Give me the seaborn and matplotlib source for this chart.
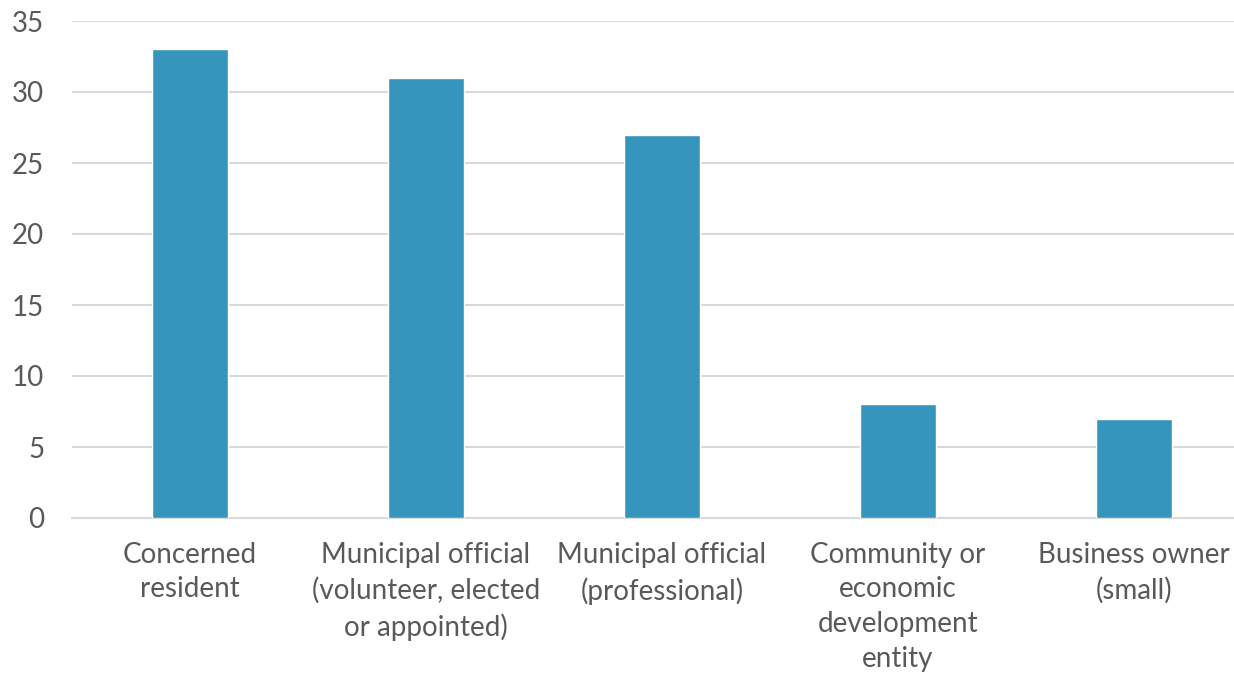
import matplotlib
import matplotlib.pyplot as plt
import seaborn as sns
import pandas as pd

matplotlib.use('Agg')

categories = [
    "Concerned\nresident",
    "Municipal official\n(volunteer, elected\nor appointed)",
    "Municipal official\n(professional)",
    "Community or\neconomic\ndevelopment\nentity",
    "Business owner\n(small)",
]
counts = [33, 31, 27, 8, 7]
y_ticks = [0, 5, 10, 15, 20, 25, 30, 35]

bar_color = "#3595BC"
text_color = "#595959"
grid_color = "#D9D9D9"

sns.set_theme(style="white")
plt.rcParams['font.family'] = ['Lato', 'DejaVu Sans']

df = pd.DataFrame({"category": categories, "count": counts})

fig = plt.figure(figsize=(12.34, 6.73), dpi=100)
ax = fig.add_axes([72 / 1234, 155 / 673, 1180 / 1234, 497 / 673])

sns.barplot(data=df, x="category", y="count", color=bar_color, width=0.318,
            saturation=1, ax=ax, zorder=3)

ax.set_xlim(-0.5, 4.5)
ax.set_ylim(0, 35)
ax.set_yticks(y_ticks)
ax.set_xlabel("")
ax.set_ylabel("")

ax.yaxis.grid(True, color=grid_color, linewidth=1.5, zorder=0)
ax.set_axisbelow(True)
for side in ["top", "right", "left"]:
    ax.spines[side].set_visible(False)
ax.spines["bottom"].set_color(grid_color)
ax.spines["bottom"].set_linewidth(1.5)

ax.tick_params(axis="y", length=0, pad=20, labelsize=20, labelcolor=text_color)
ax.tick_params(axis="x", length=0, pad=17, labelsize=20, labelcolor=text_color)
for lbl in ax.get_xticklabels():
    lbl.set_linespacing(1.42)

fig.savefig("out.png", dpi=100)
plt.close(fig)
